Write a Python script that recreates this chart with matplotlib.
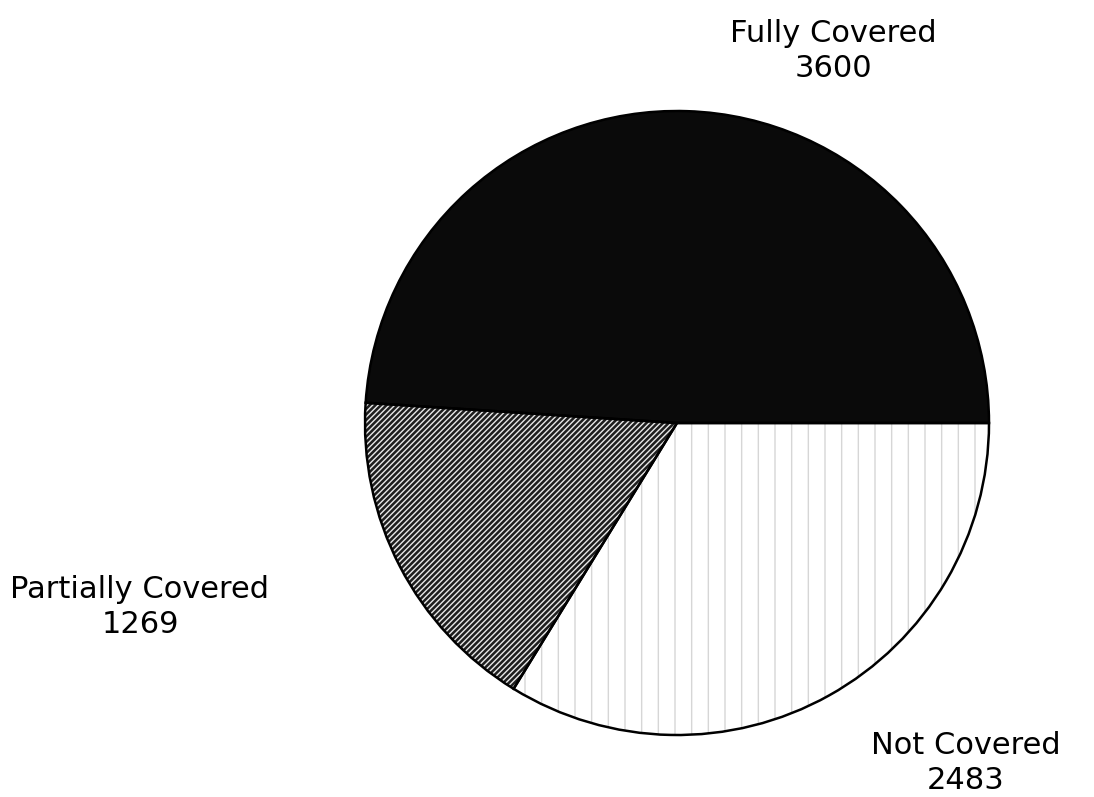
import matplotlib.pyplot as plt

labels = ['Fully Covered', 'Partially Covered', 'Not Covered']
counts = [3600, 1269, 2483]

fills = ['#0a0a0a', '#1e1e1e', 'white']
hatches = [None, '//////', '|']
hatch_colors = ['#0a0a0a', '#e8e8e8', '#d6d6d6']

plt.rcParams['hatch.linewidth'] = 1.0

fig = plt.figure(figsize=(10.94, 7.97), dpi=100)
ax = fig.add_axes([0, 0, 1, 1])

# filled wedges with hatching (edge colour drives hatch colour)
wedges, _ = ax.pie(counts, startangle=0, counterclock=True,
                   center=(677, 374), radius=312, frame=True)
for w, fc, h, hc in zip(wedges, fills, hatches, hatch_colors):
    w.set_facecolor(fc)
    w.set_edgecolor(hc)
    w.set_linewidth(0)
    if h:
        w.set_hatch(h)

# outlines on top
outline, _ = ax.pie(counts, startangle=0, counterclock=True,
                    center=(677, 374), radius=312, frame=True,
                    wedgeprops=dict(facecolor='none', edgecolor='black', linewidth=1.8))
ax.set_xlim(0, 1094)
ax.set_ylim(0, 797)
ax.set_aspect('equal')
ax.axis('off')

label_pos = [(833, 746), (140, 190), (966, 34)]
for lab, n, (x, y) in zip(labels, counts, label_pos):
    ax.text(x, y, f'{lab}\n{n}', ha='center', va='center', fontsize=22,
            linespacing=1.3, color='black', fontfamily='DejaVu Sans')

fig.savefig('out.png', dpi=100)
